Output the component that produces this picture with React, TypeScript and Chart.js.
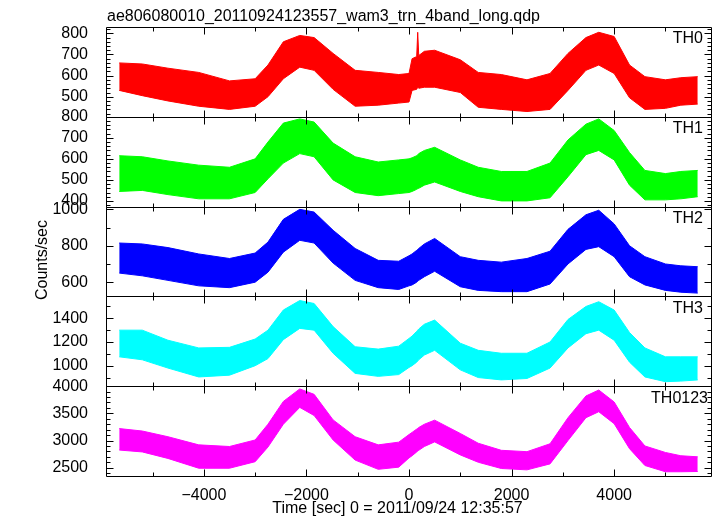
import React, { useEffect, useRef } from 'react';
import { Chart, registerables } from 'chart.js';

Chart.register(...registerables);

const TITLE = 'ae806080010_20110924123557_wam3_trn_4band_long.qdp';
const X_TITLE = 'Time [sec] 0 = 2011/09/24 12:35:57';
const Y_TITLE = 'Counts/sec';

const PANEL_NAMES = ['TH0', 'TH1', 'TH2', 'TH3', 'TH0123'];
const PANEL_COLORS = ['#ff0000', '#00ff00', '#0000ff', '#00ffff', '#ff00ff'];
const Y_MIN = [405, 373, 522, 827, 2347];
const Y_MAX = [830, 800, 1015, 1585, 4000];
const Y_MINOR = [20, 20, 100, 100, 100];

const TH0_TICKS = [500, 600, 700, 800];
const TH1_TICKS = [400, 500, 600, 700, 800];
const TH2_TICKS = [600, 800, 1000];
const TH3_TICKS = [1000, 1200, 1400];
const TH0123_TICKS = [2500, 3000, 3500, 4000];
const Y_TICKS = [TH0_TICKS, TH1_TICKS, TH2_TICKS, TH3_TICKS, TH0123_TICKS];

const X_MIN = -5908;
const X_MAX = 5908;
const X_TICKS = [-4000, -2000, 0, 2000, 4000];
const X_MINOR = 1000;

const TIME = [-5650, -5200, -4700, -4100, -3500, -3000, -2750, -2450, -2130, -1850, -1480, -1050, -600, -200, 0, 60, 150, 170, 190, 300, 500, 1000, 1350, 1800, 2300, 2750, 3100, 3450, 3700, 4000, 4300, 4600, 5000, 5300, 5630];

const TH0_HI = [660, 655, 635, 615, 575, 585, 650, 760, 790, 780, 705, 625, 615, 605, 610, 680, 690, 805, 695, 715, 720, 675, 615, 605, 580, 610, 705, 780, 805, 785, 650, 595, 580, 590, 595];
const TH0_LO = [530, 505, 480, 455, 440, 455, 500, 585, 640, 625, 535, 455, 460, 470, 475, 530, 535, 545, 540, 545, 545, 520, 450, 440, 430, 440, 530, 625, 650, 610, 495, 440, 445, 460, 465];

const TH1_HI = [615, 610, 590, 570, 560, 600, 680, 770, 790, 775, 675, 610, 585, 595, 600, 605, 615, 620, 625, 640, 655, 595, 560, 540, 540, 580, 690, 765, 790, 735, 630, 545, 530, 540, 545];
const TH1_LO = [445, 450, 430, 410, 410, 440, 505, 580, 625, 610, 500, 440, 425, 435, 440, 445, 455, 458, 460, 475, 490, 445, 420, 400, 400, 415, 515, 620, 640, 595, 475, 405, 405, 410, 420];

const TH2_HI = [815, 810, 790, 755, 730, 760, 820, 945, 1000, 985, 885, 785, 720, 715, 745, 755, 775, 780, 785, 810, 840, 740, 720, 710, 730, 770, 890, 970, 995, 920, 800, 740, 700, 690, 685];
const TH2_LO = [650, 635, 610, 580, 570, 600, 655, 765, 830, 815, 705, 610, 570, 560, 580, 585, 600, 605, 610, 630, 660, 575, 555, 548, 548, 590, 700, 780, 795, 740, 630, 585, 555, 545, 540];

const TH3_HI = [1300, 1300, 1215, 1150, 1155, 1225, 1300, 1470, 1550, 1525, 1330, 1160, 1140, 1165, 1230, 1250, 1290, 1300, 1310, 1350, 1385, 1190, 1130, 1105, 1105, 1200, 1390, 1500, 1540, 1470, 1280, 1150, 1075, 1075, 1075];
const TH3_LO = [1075, 1050, 980, 905, 920, 1000, 1060, 1220, 1315, 1300, 1105, 935, 910, 925, 985, 1000, 1030, 1040, 1050, 1090, 1130, 965, 900, 880, 892, 980, 1150, 1270, 1300, 1215, 1030, 905, 865, 870, 880];

const TH0123_HI = [3220, 3175, 3070, 2920, 2890, 3010, 3300, 3720, 3950, 3850, 3380, 3070, 2920, 2970, 3110, 3150, 3210, 3225, 3240, 3300, 3375, 3130, 2950, 2820, 2795, 2940, 3420, 3820, 3930, 3710, 3240, 2900, 2780, 2720, 2700];
const TH0123_LO = [2825, 2790, 2670, 2490, 2490, 2610, 2880, 3300, 3610, 3460, 3010, 2640, 2470, 2510, 2680, 2720, 2790, 2805, 2820, 2890, 2975, 2735, 2600, 2485, 2460, 2570, 3000, 3420, 3530, 3310, 2850, 2540, 2425, 2425, 2430];

const HI = [TH0_HI, TH1_HI, TH2_HI, TH3_HI, TH0123_HI];
const LO = [TH0_LO, TH1_LO, TH2_LO, TH3_LO, TH0123_LO];
const PANEL_IDS = ['y0', 'y1', 'y2', 'y3', 'y4'];
const LABEL_RIGHT = [703, 703, 703, 703, 708];

const FONT = '"Liberation Sans", Arial, Helvetica, sans-serif';

const framePlugin = {
  id: 'qdpFrame',
  afterDatasetsDraw(chart: any) {
    const { ctx, chartArea } = chart;
    const xs = chart.scales.x;
    const L = Math.round(chartArea.left) + 0.5;
    const R = Math.round(chartArea.right) - 0.5;
    ctx.save();
    ctx.strokeStyle = '#000';
    ctx.lineWidth = 1;
    ctx.beginPath();
    PANEL_IDS.forEach((id, p) => {
      const ys = chart.scales[id];
      const T = Math.round(ys.top) + 0.5;
      const B = Math.round(ys.bottom) + 0.5;
      ctx.moveTo(L, T); ctx.lineTo(R, T);
      ctx.moveTo(L, B); ctx.lineTo(R, B);
      ctx.moveTo(L, T); ctx.lineTo(L, B);
      ctx.moveTo(R, T); ctx.lineTo(R, B);
      for (let k = Math.ceil(X_MIN / X_MINOR); k * X_MINOR <= X_MAX; k++) {
        const v = k * X_MINOR;
        const px = Math.round(xs.getPixelForValue(v)) + 0.5;
        const len = X_TICKS.includes(v) ? 7 : 4;
        ctx.moveTo(px, T); ctx.lineTo(px, T + len);
        ctx.moveTo(px, B); ctx.lineTo(px, B - len);
      }
      const minor = Y_MINOR[p];
      const majors = Y_TICKS[p];
      for (let k = Math.ceil(Y_MIN[p] / minor); k * minor <= Y_MAX[p]; k++) {
        const v = k * minor;
        const py = Math.round(ys.getPixelForValue(v)) + 0.5;
        const len = majors.includes(v) ? 7 : 4;
        ctx.moveTo(L, py); ctx.lineTo(L + len, py);
        ctx.moveTo(R, py); ctx.lineTo(R - len, py);
      }
    });
    ctx.stroke();

    ctx.fillStyle = '#000';
    ctx.font = '16px ' + FONT;
    ctx.textBaseline = 'alphabetic';
    ctx.textAlign = 'left';
    ctx.fillText(TITLE, 107, 21);
    ctx.textAlign = 'center';
    ctx.fillText(X_TITLE, 397.5, 512.5);
    ctx.textAlign = 'right';
    PANEL_IDS.forEach((id, p) => {
      const ys = chart.scales[id];
      ctx.fillText(PANEL_NAMES[p], LABEL_RIGHT[p], ys.top + 16.3);
    });
    ctx.save();
    ctx.translate(46.7, 260);
    ctx.rotate(-Math.PI / 2);
    ctx.textAlign = 'center';
    ctx.fillText(Y_TITLE, 0, 0);
    ctx.restore();
    ctx.restore();
  },
};

export default function App() {
  const ref = useRef<HTMLCanvasElement | null>(null);

  useEffect(() => {
    if (!ref.current) return;
    const datasets: any[] = [];
    PANEL_IDS.forEach((id, p) => {
      const hi = HI[p];
      const lo = LO[p];
      datasets.push({
        label: PANEL_NAMES[p] + ' hi',
        data: TIME.map((t, i) => ({ x: t, y: hi[i] })),
        yAxisID: id,
        borderColor: PANEL_COLORS[p],
        backgroundColor: PANEL_COLORS[p],
        borderWidth: 1,
        pointRadius: 0,
        tension: 0,
        fill: '+1',
      });
      datasets.push({
        label: PANEL_NAMES[p] + ' lo',
        data: TIME.map((t, i) => ({ x: t, y: lo[i] })),
        yAxisID: id,
        borderColor: PANEL_COLORS[p],
        backgroundColor: PANEL_COLORS[p],
        borderWidth: 1,
        pointRadius: 0,
        tension: 0,
        fill: false,
      });
    });

    const scales: any = {
      x: {
        type: 'linear',
        position: 'bottom',
        min: X_MIN,
        max: X_MAX,
        grid: { display: false },
        border: { display: false },
        afterBuildTicks: (s: any) => { s.ticks = X_TICKS.map((v) => ({ value: v })); },
        ticks: {
          autoSkip: false,
          maxRotation: 0,
          padding: 2,
          color: '#000',
          font: { family: FONT, size: 16 },
          callback: (v: number) => (v < 0 ? '\u2212' + Math.abs(v) : String(v)),
        },
        afterFit: (s: any) => { s.height = 40; },
      },
    };
    // later-defined left axes are stacked on top; define bottom panel first
    for (let p = PANEL_IDS.length - 1; p >= 0; p--) {
      const tk = Y_TICKS[p];
      scales[PANEL_IDS[p]] = {
        type: 'linear',
        position: 'left',
        stack: 'panels',
        stackWeight: 1,
        weight: PANEL_IDS.length - p,
        min: Y_MIN[p],
        max: Y_MAX[p],
        grid: { display: false },
        border: { display: false },
        afterBuildTicks: (s: any) => { s.ticks = tk.map((v) => ({ value: v })); },
        ticks: {
          autoSkip: false,
          padding: 10,
          color: '#000',
          font: { family: FONT, size: 16 },
          callback: (v: number) => String(v),
        },
        afterFit: (s: any) => { s.width = 106; },
      };
    }

    const chart = new Chart(ref.current, {
      type: 'line',
      data: { datasets },
      options: {
        animation: false,
        responsive: false,
        devicePixelRatio: 1,
        layout: { padding: { top: 27, right: 5, left: 0, bottom: 0 } },
        plugins: {
          legend: { display: false },
          tooltip: { enabled: false },
          title: { display: false },
        },
        scales,
      },
      plugins: [framePlugin],
    } as any);
    return () => chart.destroy();
  }, []);

  return (
    <div style={{ position: 'absolute', left: 0, top: 0, width: 717, height: 516, background: '#fff' }}>
      <canvas ref={ref} width={717} height={516} style={{ width: 717, height: 516, display: 'block' }} />
    </div>
  );
}
